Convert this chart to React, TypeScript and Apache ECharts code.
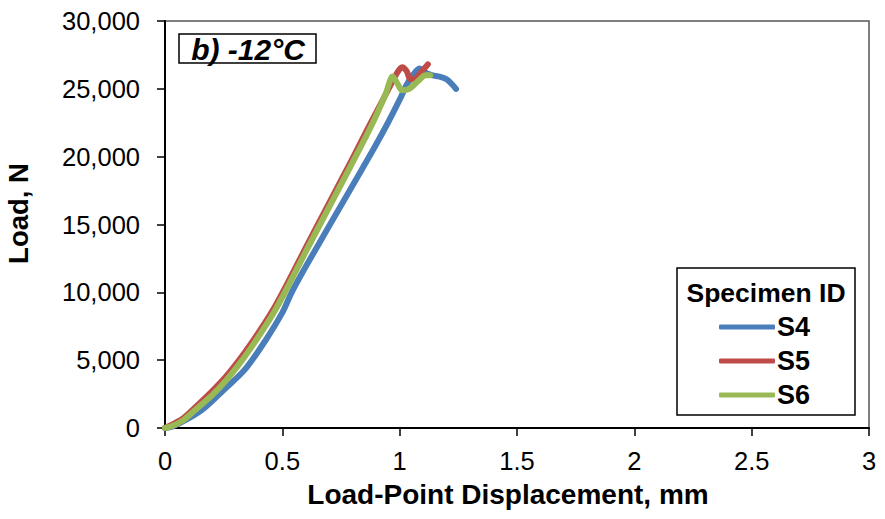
import React, { useEffect, useRef } from "react";
import * as echarts from "echarts";

const FONT = 'Arial, "Liberation Sans", sans-serif';

// Load-point displacement (mm) and load (N)
const s4Disp = [0, 0.03, 0.1, 0.17, 0.25, 0.34, 0.43, 0.5, 0.54, 0.6, 0.7, 0.8, 0.89, 0.95, 1.0, 1.03, 1.06, 1.085, 1.11, 1.14, 1.17, 1.2, 1.225, 1.24];
const s4Load = [0, 100, 700, 1500, 2800, 4300, 6500, 8500, 10000, 11900, 14900, 17900, 20600, 22500, 24200, 25300, 26100, 26500, 26200, 26000, 25900, 25700, 25300, 25000];

const s5Disp = [0, 0.03, 0.08, 0.14, 0.2, 0.26, 0.32, 0.37, 0.42, 0.47, 0.52, 0.6, 0.7, 0.8, 0.88, 0.95, 0.99, 1.01, 1.03, 1.045, 1.06, 1.09, 1.12];
const s5Load = [0, 250, 750, 1700, 2700, 3800, 5100, 6300, 7600, 9000, 10600, 13300, 16600, 19900, 22600, 24900, 26200, 26600, 26300, 25700, 25700, 26200, 26800];

const s6Disp = [0, 0.03, 0.08, 0.14, 0.2, 0.26, 0.32, 0.37, 0.42, 0.47, 0.52, 0.6, 0.7, 0.8, 0.88, 0.94, 0.97, 0.99, 1.01, 1.04, 1.08, 1.11, 1.13];
const s6Load = [0, 150, 600, 1500, 2400, 3500, 4800, 6000, 7300, 8700, 10300, 13000, 16300, 19600, 22300, 24600, 25900, 25400, 24900, 25000, 25600, 26000, 26000];

const seriesNames = ["S4", "S5", "S6"];
const seriesColors = ["#4A7EBB", "#BE4B48", "#98B954"];

const xTicks = { min: 0, max: 3, interval: 0.5 };
const yTicks = { min: 0, max: 30000, interval: 5000 };

const pairs = (xs: number[], ys: number[]) => xs.map((x, i) => [x, ys[i]]);

export default function App() {
  const ref = useRef<HTMLDivElement>(null);
  useEffect(() => {
    if (!ref.current) return;
    const chart = echarts.init(ref.current, undefined, { renderer: "svg" });
    const data = [pairs(s4Disp, s4Load), pairs(s5Disp, s5Load), pairs(s6Disp, s6Load)];
    const legendTops = [327, 361, 395];
    chart.setOption({
      animation: false,
      backgroundColor: "#fff",
      grid: {
        left: 165,
        right: 16,
        top: 21,
        bottom: 91,
        show: true,
        borderColor: "#555",
        borderWidth: 1.5,
        outerBoundsMode: "none",
        containLabel: false,
      },
      xAxis: {
        type: "value",
        min: xTicks.min,
        max: xTicks.max,
        interval: xTicks.interval,
        name: "Load-Point Displacement, mm",
        nameLocation: "middle",
        nameGap: 52,
        nameTextStyle: { fontFamily: FONT, fontWeight: "bold", fontSize: 28, color: "#000", padding: [0, 18, 0, 0] },
        axisLine: { lineStyle: { color: "#000", width: 2 } },
        axisTick: { show: true, length: 8, lineStyle: { color: "#000", width: 1.5 } },
        axisLabel: { fontFamily: FONT, fontSize: 25.5, color: "#000", margin: 20 },
        splitLine: { show: false },
      },
      yAxis: {
        type: "value",
        min: yTicks.min,
        max: yTicks.max,
        interval: yTicks.interval,
        name: "Load, N",
        nameLocation: "middle",
        nameGap: 133,
        nameTextStyle: { fontFamily: FONT, fontWeight: "bold", fontSize: 27.5, color: "#000", padding: [0, 0, 0, 22] },
        axisLine: { show: true, lineStyle: { color: "#000", width: 2 } },
        axisTick: { show: true, length: 8, lineStyle: { color: "#000", width: 1.5 } },
        axisLabel: {
          fontFamily: FONT,
          fontSize: 25.5,
          color: "#000",
          margin: 25,
          formatter: (v: number) => v.toLocaleString("en-US"),
        },
        splitLine: { show: false },
      },
      legend: seriesNames.map((n, i) => ({
        data: [n],
        left: 719,
        top: legendTops[i] - 14,
        icon: "roundRect",
        itemWidth: 56,
        itemHeight: 5,
        itemGap: 2,
        textStyle: { fontFamily: FONT, fontWeight: "bold", fontSize: 27, color: "#000", lineHeight: 28, padding: [0, 0, 0, -3] },
        padding: 0,
        selectedMode: false,
      })),
      graphic: [
        {
          type: "rect",
          shape: { x: 179, y: 34, width: 137, height: 29 },
          style: { fill: "#fff", stroke: "#000", lineWidth: 1.5 },
          z: 10,
        },
        {
          type: "text",
          x: 248,
          y: 49,
          style: {
            text: "b) -12°C",
            font: `italic bold 30px ${FONT}`,
            fill: "#000",
            align: "center",
            verticalAlign: "middle",
          },
          z: 11,
        },
        {
          type: "rect",
          shape: { x: 677, y: 268, width: 178, height: 147 },
          style: { fill: "#fff", stroke: "#000", lineWidth: 1.5 },
          z: 0,
          silent: true,
        },
        {
          type: "text",
          x: 766,
          y: 293,
          style: {
            text: "Specimen ID",
            font: `bold 26.5px ${FONT}`,
            fill: "#000",
            align: "center",
            verticalAlign: "middle",
          },
          z: 11,
        },
      ],
      series: seriesNames.map((n, i) => ({
        name: n,
        type: "line",
        data: data[i],
        showSymbol: false,
        smooth: 0.3,
        color: seriesColors[i],
        lineStyle: { width: 6, color: seriesColors[i], cap: "round", join: "round" },
        z: i === 0 ? 2 : i === 1 ? 3 : 4,
      })),
    });
    return () => chart.dispose();
  }, []);
  return (
    <div
      ref={ref}
      style={{ position: "fixed", left: 0, top: 0, width: 885, height: 519 }}
    />
  );
}
